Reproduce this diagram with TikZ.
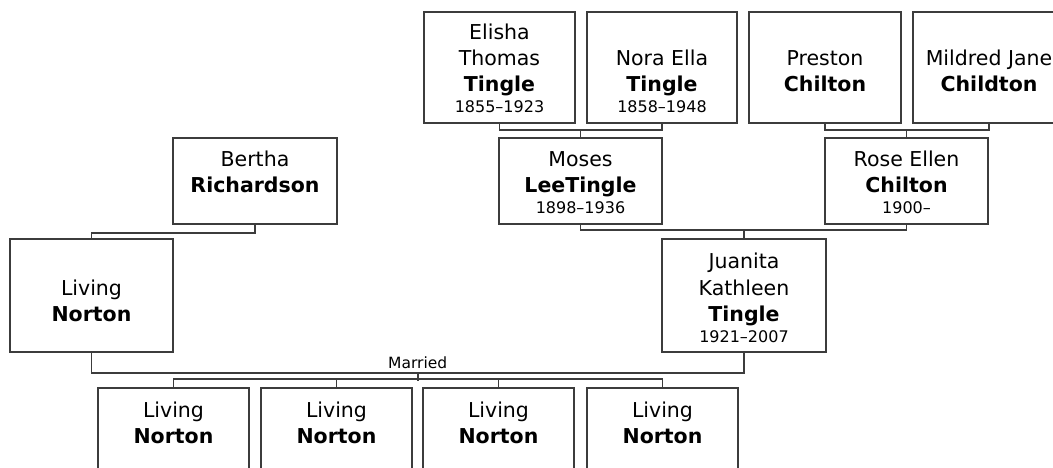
\documentclass[tikz,border=0pt]{standalone}
\usepackage{fontspec}
\setmainfont{DejaVu Sans}
\usetikzlibrary{calc}
\definecolor{ln}{RGB}{60,60,60}
\tikzset{
  pbox/.style={draw=ln, line width=1.4pt, fill=white, inner sep=0pt, rectangle},
  conn/.style={draw=ln, line width=1.7pt},
  nm/.style={anchor=base, inner sep=0pt, font=\fontsize{20.5}{26}\selectfont},
  sn/.style={anchor=base, inner sep=0pt, font=\fontsize{20.5}{26}\selectfont\bfseries},
  dt/.style={anchor=base, inner sep=0pt, font=\fontsize{16}{20}\selectfont},
  mar/.style={anchor=base, inner sep=0pt, font=\fontsize{15.5}{19}\selectfont}
}
% name, x1, y1, x2, y2
\newcommand\personbox[5]{\node[pbox, minimum width={#4-#2}, minimum height={#5-#3}] (#1) at ({(#2+#4)/2},{(#3+#5)/2}) {};}
% name, style, x, baseline, text
\newcommand\tline[5]{\node[#2] (#1) at (#3,#4) {#5};}
\begin{document}
\begin{tikzpicture}[x=1pt,y=-1pt]
\useasboundingbox (0,0) rectangle (1053,468);
\clip (0,0) rectangle (1053,468);
\fill[white] (0,0) rectangle (1053,468);
% boxes
\personbox{elisha}{424}{12}{575}{123}
\personbox{nora}{587}{12}{737}{123}
\personbox{preston}{749}{12}{901}{123}
\personbox{mildred}{913}{12}{1065}{123}
\personbox{bertha}{173}{138}{337}{224}
\personbox{moses}{499}{138}{662}{224}
\personbox{rose}{825}{138}{988}{224}
\personbox{norton}{10}{239}{173}{352}
\personbox{juanita}{662}{239}{826}{352}
\personbox{kid1}{98}{388}{249}{474}
\personbox{kid2}{261}{388}{412}{474}
\personbox{kid3}{423}{388}{574}{474}
\personbox{kid4}{587}{388}{738}{474}
% texts
\tline{elisha-a}{nm}{499.5}{40}{Elisha}
\tline{elisha-b}{nm}{499.5}{66}{Thomas}
\tline{elisha-c}{sn}{499.5}{92}{Tingle}
\tline{elisha-d}{dt}{499.5}{113}{1855–1923}
\tline{nora-a}{nm}{662}{66}{Nora Ella}
\tline{nora-b}{sn}{662}{92}{Tingle}
\tline{nora-c}{dt}{662}{113}{1858–1948}
\tline{preston-a}{nm}{825}{66}{Preston}
\tline{preston-b}{sn}{825}{92}{Chilton}
\tline{mildred-a}{nm}{989}{66}{Mildred Jane}
\tline{mildred-b}{sn}{989}{92}{Childton}
\tline{bertha-a}{nm}{255}{167}{Bertha}
\tline{bertha-b}{sn}{255}{193}{Richardson}
\tline{moses-a}{nm}{580.5}{167}{Moses}
\tline{moses-b}{sn}{580.5}{193}{LeeTingle}
\tline{moses-c}{dt}{580.5}{214}{1898–1936}
\tline{rose-a}{nm}{906.5}{167}{Rose Ellen}
\tline{rose-b}{sn}{906.5}{193}{Chilton}
\tline{rose-c}{dt}{906.5}{214}{1900–}
\tline{norton-a}{nm}{91.5}{295}{Living}
\tline{norton-b}{sn}{91.5}{321}{Norton}
\tline{juanita-a}{nm}{744}{269}{Juanita}
\tline{juanita-b}{nm}{744}{295}{Kathleen}
\tline{juanita-c}{sn}{744}{321}{Tingle}
\tline{juanita-d}{dt}{744}{342}{1921–2007}
\tline{kid1-a}{nm}{173.5}{417}{Living}
\tline{kid1-b}{sn}{173.5}{443}{Norton}
\tline{kid2-a}{nm}{336.5}{417}{Living}
\tline{kid2-b}{sn}{336.5}{443}{Norton}
\tline{kid3-a}{nm}{498.5}{417}{Living}
\tline{kid3-b}{sn}{498.5}{443}{Norton}
\tline{kid4-a}{nm}{662.5}{417}{Living}
\tline{kid4-b}{sn}{662.5}{443}{Norton}
% connectors
\coordinate (c1) at ($(moses.north)+(0,-7)$);
\draw[conn] (elisha.south) |- (c1) -| (nora.south);
\draw[conn] (c1) -- (moses.north);
\coordinate (c2) at ($(rose.north)+(0,-7)$);
\draw[conn] (preston.south) |- (c2) -| (mildred.south);
\draw[conn] (c2) -- (rose.north);
\draw[conn] (bertha.south) -- ++(0,8) -| (norton.north);
\coordinate (c3) at ($(juanita.north)+(0,-8)$);
\draw[conn] (moses.south) |- (c3) -| (rose.south);
\draw[conn] (c3) -- (juanita.north);
\coordinate (c4) at ($(norton.south)!0.5!(juanita.south)+(0,20)$);
\draw[conn] (norton.south) |- (c4) -| (juanita.south);
\node[mar] (married) at ($(c4)+(0,-4)$) {Married};
\coordinate (c5) at ($(c4)+(0,8)$);
\draw[conn] (c4) -- (c5);
\draw[conn] (kid1.north) -- ++(0,-8) -| (kid4.north);
\draw[conn] (kid2.north) -- ++(0,-8);
\draw[conn] (kid3.north) -- ++(0,-8);
\end{tikzpicture}
\end{document}
